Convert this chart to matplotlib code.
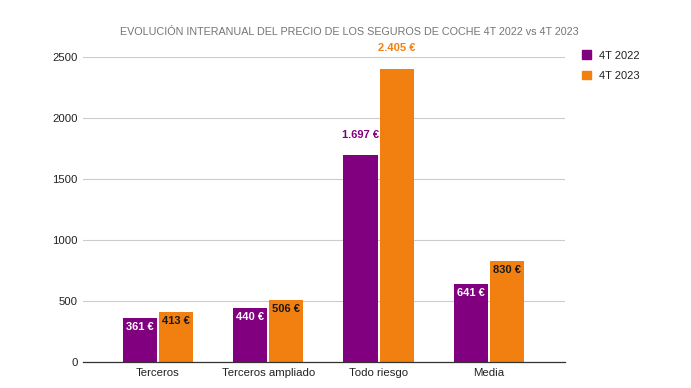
import matplotlib
matplotlib.use("Agg")
import matplotlib.pyplot as plt
import matplotlib.patches as mpatches
import numpy as np

plt.rcParams['font.family'] = ['Liberation Sans', 'DejaVu Sans']

categories = ["Terceros", "Terceros ampliado", "Todo riesgo", "Media"]
series_names = ["4T 2022", "4T 2023"]
values_2022 = [361, 440, 1697, 641]
values_2023 = [413, 506, 2405, 830]
labels_2022 = ["361 €", "440 €", "1.697 €", "641 €"]
labels_2023 = ["413 €", "506 €", "2.405 €", "830 €"]
yticks = [0, 500, 1000, 1500, 2000, 2500]
title = "EVOLUCIÓN INTERANUAL DEL PRECIO DE LOS SEGUROS DE COCHE 4T 2022 vs 4T 2023"

c_purple = "#800080"
c_orange = "#f28010"

fig = plt.figure(figsize=(6.91, 3.88), dpi=100)
ax = fig.add_axes([83/691, 1-362/388, (565-83)/691, (362-57)/388])

x = np.arange(len(categories))
w = 0.31
off = 0.164
b1 = ax.bar(x - off, values_2022, w, color=c_purple, zorder=3)
b2 = ax.bar(x + off, values_2023, w, color=c_orange, zorder=3)

ax.set_ylim(0, 2500)
ax.set_xlim(-0.68, 3.69)
ax.set_yticks(yticks)
ax.set_yticklabels([str(t) for t in yticks], fontsize=8.2, color="#222222")
ax.set_xticks(x)
ax.set_xticklabels(categories, fontsize=8.2, color="#222222")
ax.tick_params(axis='both', length=0)
ax.tick_params(axis='y', pad=4)
ax.tick_params(axis='x', pad=4.5)
ax.grid(axis='y', color="#cccccc", linewidth=0.8, zorder=0)
for s in ["top", "right", "left"]:
    ax.spines[s].set_visible(False)
ax.spines["bottom"].set_color("#333333")
ax.spines["bottom"].set_linewidth(0.9)
ax.spines["bottom"].set_zorder(4)

def put_labels(bars, vals, labs, color, inside_color):
    for b, v, l in zip(bars, vals, labs):
        cx = b.get_x() + b.get_width() / 2
        if v > 1500:
            ax.annotate(l, (cx, v), xytext=(0, 11), textcoords="offset points",
                        ha="center", va="bottom", fontsize=8, fontweight="bold", color=color)
        else:
            ax.annotate(l, (cx, v), xytext=(0, -3), textcoords="offset points",
                        ha="center", va="top", fontsize=8, fontweight="bold", color=inside_color)

put_labels(b1, values_2022, labels_2022, c_purple, "white")
put_labels(b2, values_2023, labels_2023, c_orange, "#1a1a1a")

fig.text(349/691, 1-32/388, title, ha="center", va="center", fontsize=7.75, color="#757575")

handles = [mpatches.Patch(color=c_purple, label=series_names[0]),
           mpatches.Patch(color=c_orange, label=series_names[1])]
leg = fig.legend(handles=handles, loc="upper left", bbox_to_anchor=(578/691, 1-46/388),
                 frameon=False, fontsize=8, handlelength=0.8, handleheight=0.8,
                 handletextpad=0.7, labelspacing=0.9, borderaxespad=0)
for t in leg.get_texts():
    t.set_color("#222222")

fig.savefig("out.png", dpi=100)
